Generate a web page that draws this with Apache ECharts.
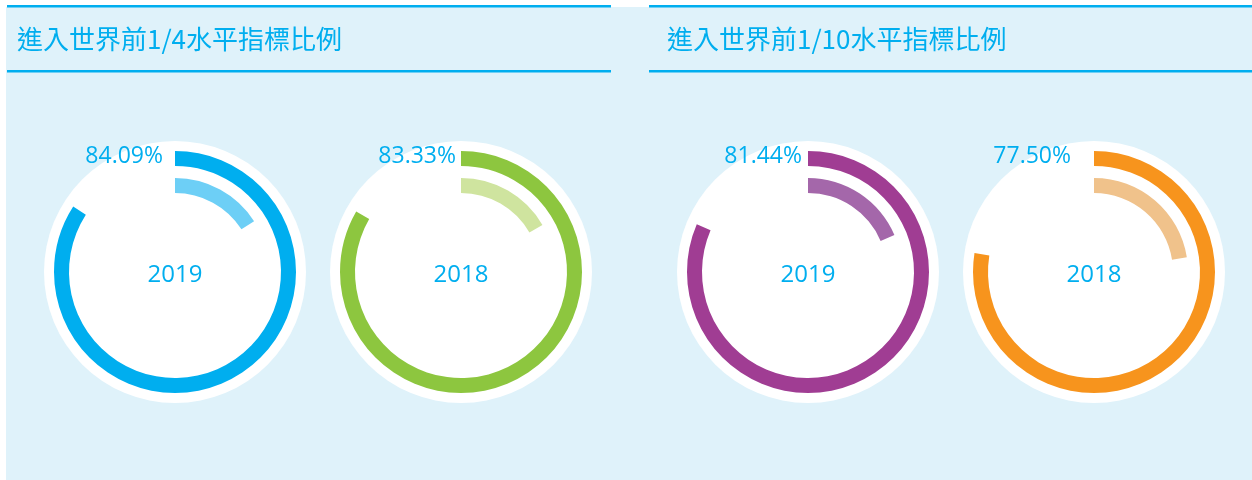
<!DOCTYPE html>
<html>
<head>
<meta charset="utf-8">
<script src="https://cdn.jsdelivr.net/npm/echarts@6/dist/echarts.min.js"></script>
<style>
html,body{margin:0;padding:0;background:#ffffff;}
#chart{width:1252px;height:480px;}
</style>
</head>
<body>
<div id="chart"></div>
<script>
// ---- data ----
const panelTitles = ['進入世界前1/4水平指標比例', '進入世界前1/10水平指標比例'];
const years = ['2019', '2018', '2019', '2018'];
const ratios = [84.09, 83.33, 81.44, 77.50];

// ---- layout / style ----
const mainColors = ['#00aeef', '#8dc63f', '#a03d93', '#f7941d'];
const lightColors = ['#6dcff6', '#cfe49f', '#a467aa', '#f0c28b'];
const centersX = [175, 461, 808, 1094];
const centerY = 272;
const labelRightX = [163, 456, 802, 1071];
const textBlue = '#00aeef';
const numFont = '"Open Sans", "Noto Sans", sans-serif';
const cjkFont = '"Noto Sans CJK TC", "Noto Sans CJK SC", sans-serif';

const chart = echarts.init(document.getElementById('chart'), null, {renderer: 'canvas'});

const series = [];
ratios.forEach((r, i) => {
  const c = [centersX[i], centerY];
  // white disc
  series.push({
    type: 'pie', silent: true, center: c, radius: [0, 131], z: 1,
    startAngle: 90, animation: false,
    label: {show: false}, labelLine: {show: false},
    emphasis: {disabled: true},
    data: [{value: 1, name: years[i], itemStyle: {color: '#ffffff'}}]
  });
  // outer ring: ratio
  series.push({
    type: 'pie', silent: true, center: c, radius: [106, 121], z: 2,
    startAngle: 90, clockwise: true, animation: false,
    label: {show: false}, labelLine: {show: false}, emphasis: {disabled: true},
    data: [
      {value: r, itemStyle: {color: mainColors[i]}},
      {value: 100 - r, itemStyle: {color: 'rgba(0,0,0,0)'}}
    ]
  });
  // inner arc: remainder
  series.push({
    type: 'pie', silent: true, center: c, radius: [79, 94], z: 2,
    startAngle: 90, clockwise: true, animation: false,
    label: {show: false}, labelLine: {show: false}, emphasis: {disabled: true},
    data: [
      {value: 100 - r, itemStyle: {color: lightColors[i]}},
      {value: r, itemStyle: {color: 'rgba(0,0,0,0)'}}
    ]
  });
});

const graphics = [
  {type: 'rect', z: -10, shape: {x: 6, y: 7, width: 1246, height: 473}, style: {fill: '#dff2fa'}},
  {type: 'rect', z: 5, shape: {x: 7, y: 5, width: 604, height: 2.5}, style: {fill: '#00aeef'}},
  {type: 'rect', z: 5, shape: {x: 7, y: 70, width: 604, height: 2.5}, style: {fill: '#00aeef'}},
  {type: 'rect', z: 5, shape: {x: 649, y: 5, width: 603, height: 2.5}, style: {fill: '#00aeef'}},
  {type: 'rect', z: 5, shape: {x: 649, y: 70, width: 603, height: 2.5}, style: {fill: '#00aeef'}},
  {type: 'text', z: 5, style: {text: panelTitles[0], x: 17, y: 39, textVerticalAlign: 'middle',
    fill: textBlue, font: '26px ' + cjkFont}},
  {type: 'text', z: 5, style: {text: panelTitles[1], x: 667, y: 39, textVerticalAlign: 'middle',
    fill: textBlue, font: '26px ' + cjkFont}}
];
ratios.forEach((r, i) => {
  graphics.push({type: 'text', z: 10, style: {
    text: r.toFixed(2) + '%', x: labelRightX[i], y: 156,
    textAlign: 'right', textVerticalAlign: 'middle',
    fill: textBlue, font: '23px ' + numFont}});
  graphics.push({type: 'text', z: 10, style: {
    text: years[i], x: centersX[i], y: 275,
    textAlign: 'center', textVerticalAlign: 'middle',
    fill: textBlue, font: '24px ' + numFont}});
});

chart.setOption({
  backgroundColor: '#ffffff',
  animation: false,
  graphic: graphics,
  series: series
});
</script>
</body>
</html>
